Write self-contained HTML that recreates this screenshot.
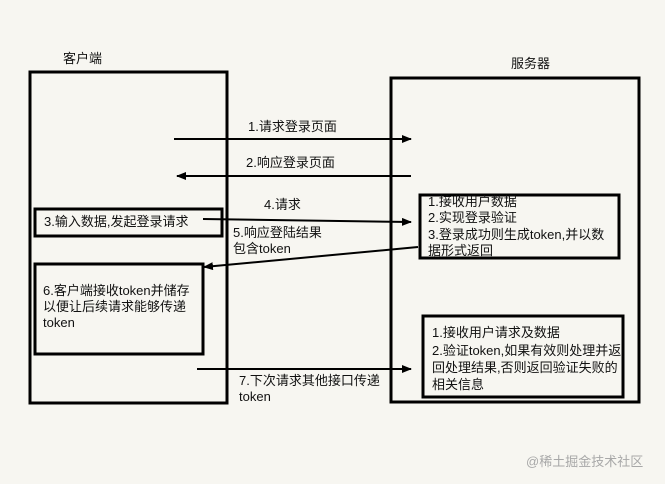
<!DOCTYPE html>
<html><head><meta charset="utf-8"><style>
body{margin:0;background:#f7f6f1;}
svg{display:block}
text{font-family:"Liberation Sans","Noto Sans CJK SC",sans-serif;font-size:13px;fill:#111}
</style></head><body>
<svg width="665" height="484" viewBox="0 0 665 484" xmlns="http://www.w3.org/2000/svg">
<rect width="665" height="484" fill="#f7f6f1"/>
<defs><marker id="a" markerWidth="10" markerHeight="8" refX="9" refY="4" orient="auto" markerUnits="userSpaceOnUse"><path d="M0,0 L10,4 L0,8 Z" fill="#000"/></marker></defs>
<g fill="none" stroke="#000" stroke-width="3">
<rect x="30" y="72" width="197" height="331"/>
<rect x="391" y="78" width="248" height="324"/>
<rect x="35" y="209" width="187" height="27"/>
<rect x="420" y="195" width="199" height="63"/>
<rect x="35" y="264" width="168" height="90"/>
<rect x="423" y="316" width="200" height="81"/>
</g>
<g stroke="#000" stroke-width="2">
<line x1="174" y1="139" x2="411" y2="139" marker-end="url(#a)"/>
<line x1="411" y1="176" x2="177" y2="176" marker-end="url(#a)"/>
<line x1="203" y1="219" x2="411" y2="222" marker-end="url(#a)"/>
<line x1="418" y1="247" x2="204" y2="267" marker-end="url(#a)"/>
<line x1="197" y1="369" x2="411" y2="369" marker-end="url(#a)"/>
</g>
<text x="63" y="63">客户端</text>
<text x="511" y="68">服务器</text>
<text x="248" y="131">1.请求登录页面</text>
<text x="246" y="167">2.响应登录页面</text>
<text x="264" y="209">4.请求</text>
<text x="44" y="226">3.输入数据,发起登录请求</text>
<text x="233" y="237">5.响应登陆结果</text>
<text x="233" y="253">包含token</text>
<text x="428" y="206">1.接收用户数据</text>
<text x="428" y="222">2.实现登录验证</text>
<text x="428" y="239">3.登录成功则生成token,并以数</text>
<text x="428" y="255">据形式返回</text>
<text x="43" y="295">6.客户端接收token并储存</text>
<text x="43" y="311">以便让后续请求能够传递</text>
<text x="43" y="327">token</text>
<text x="432" y="337">1.接收用户请求及数据</text>
<text x="432" y="355">2.验证token,如果有效则处理并返</text>
<text x="432" y="372">回处理结果,否则返回验证失败的</text>
<text x="432" y="389">相关信息</text>
<text x="239" y="385">7.下次请求其他接口传递</text>
<text x="239" y="401">token</text>
<text x="526" y="466" style="fill:#a8a8a8">@稀土掘金技术社区</text>
</svg>
</body></html>
